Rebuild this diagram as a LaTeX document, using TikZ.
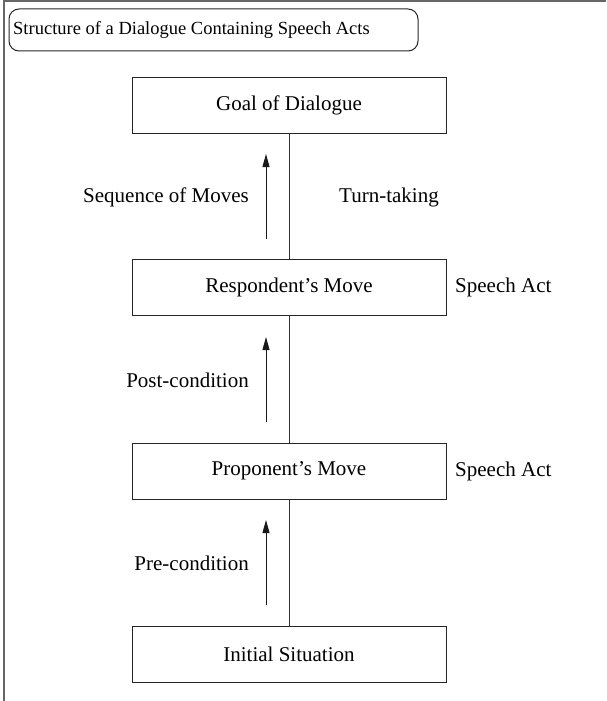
\documentclass[tikz,border=0pt]{standalone}
\usepackage{fontspec}
\setmainfont{Liberation Serif}
\usetikzlibrary{arrows.meta}
\begin{document}
\begin{tikzpicture}[x=1pt,y=-1pt,
  stagebox/.style={draw=black!85,line width=1pt,fill=white,minimum width=314pt,minimum height=56pt,inner sep=0pt,font=\fontsize{21}{24}\selectfont},
  sidelabel/.style={inner sep=0pt,font=\fontsize{21}{24}\selectfont},
  flowarrow/.style={draw=black!90,line width=0.9pt,-{Triangle[length=13pt,width=7pt]}},
  spine/.style={draw=black!80,line width=1pt}]
\useasboundingbox (0,0) rectangle (606,701);

% outer frame: top and left edges only
\draw[black!60,line width=1.3pt] (606,1) -- (4,1) -- (4,701);

% title banner
\draw[black!85,line width=1pt,rounded corners=10pt] (9,9) rectangle (418,51);
\node[anchor=west,inner sep=0pt,font=\fontsize{18.5}{22}\selectfont] (title) at (13,30) {Structure of a Dialogue Containing Speech Acts};

% stages of the dialogue
\node[stagebox] (goal) at (289,105) {Goal of Dialogue};
\node[stagebox] (resp) at (289,287.5) {Respondent’s Move};
\node[stagebox] (prop) at (289,471) {Proponent’s Move};
\node[stagebox] (init) at (289,654.5) {Initial Situation};

% central spine linking the stages
\draw[spine] (init.north) -- (prop.south);
\draw[spine] (prop.north) -- (resp.south);
\draw[spine] (resp.north) -- (goal.south);

% progression arrows
\coordinate (a1s) at (266,605); \coordinate (a1e) at (266,520);
\coordinate (a2s) at (266,422); \coordinate (a2e) at (266,337);
\coordinate (a3s) at (266,239); \coordinate (a3e) at (266,154);
\draw[flowarrow] (a1s) -- (a1e);
\draw[flowarrow] (a2s) -- (a2e);
\draw[flowarrow] (a3s) -- (a3e);

% labels
\node[sidelabel,anchor=east] (pre) at (249,563) {Pre-condition};
\node[sidelabel,anchor=east] (post) at (249,380) {Post-condition};
\node[sidelabel,anchor=east] (seq) at (249,197) {Sequence of Moves};
\node[sidelabel] (turn) at (389,197) {Turn-taking};
\node[sidelabel,anchor=west] (sa1) at (455,287.5) {Speech Act};
\node[sidelabel,anchor=west] (sa2) at (455,471) {Speech Act};
\end{tikzpicture}
\end{document}
